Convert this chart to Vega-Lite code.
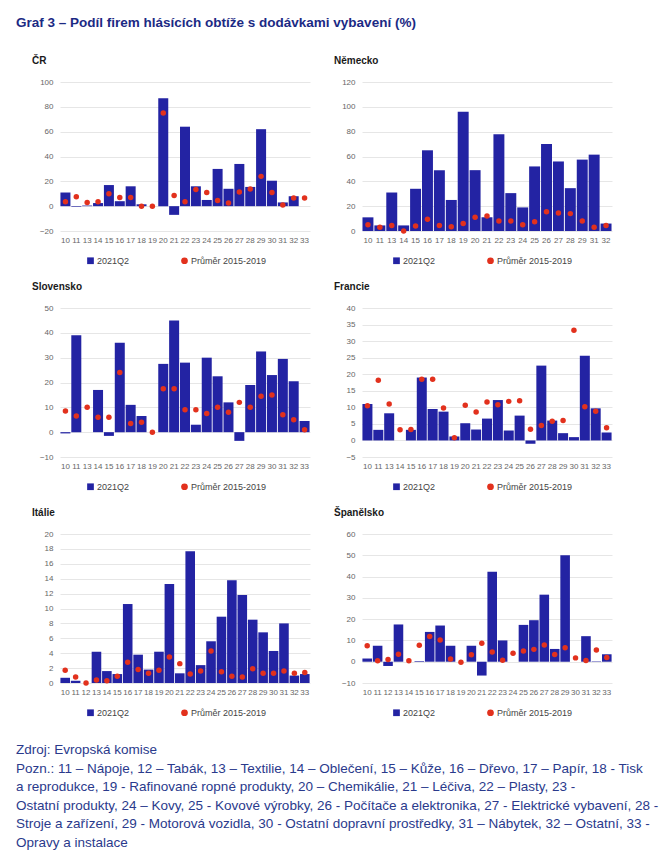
{
  "$schema": "https://vega.github.io/schema/vega-lite/v6.json",
  "padding": {"left": 16, "top": 15, "right": 5, "bottom": 5},
  "background": "white",
  "title": {"text": "Graf 3 – Podíl firem hlásících obtíže s dodávkami vybavení (%)", "anchor": "start", "frame": "group", "dx": -44, "fontSize": 13.5, "fontWeight": "bold", "color": "#1b2a84", "offset": 27},
  "datasets": {
    "cz": [
      {"k": "10", "q": 11, "a": 3.5}, {"k": "11", "q": -0.5, "a": 7.5}, {"k": "13", "q": 0.5, "a": 3}, {"k": "14", "q": 2.5, "a": 3.5},
      {"k": "15", "q": 17, "a": 10}, {"k": "16", "q": 4, "a": 7}, {"k": "17", "q": 16, "a": 7}, {"k": "18", "q": 1.5, "a": 0},
      {"k": "19", "q": 0, "a": 0}, {"k": "20", "q": 87, "a": 75}, {"k": "21", "q": -7, "a": 8.5}, {"k": "22", "q": 64, "a": 3.5},
      {"k": "23", "q": 16, "a": 13.5}, {"k": "24", "q": 5, "a": 11}, {"k": "25", "q": 30, "a": 4.5}, {"k": "26", "q": 14, "a": 2.5},
      {"k": "27", "q": 34, "a": 11.5}, {"k": "28", "q": 15.5, "a": 13.8}, {"k": "29", "q": 62, "a": 24}, {"k": "30", "q": 20.5, "a": 11},
      {"k": "31", "q": 3, "a": 1}, {"k": "32", "q": 8, "a": 6.5}, {"k": "33", "q": 0, "a": 6.5}
    ],
    "de": [
      {"k": "10", "q": 11, "a": 5}, {"k": "11", "q": 4.5, "a": 3}, {"k": "13", "q": 31, "a": 4.5}, {"k": "14", "q": 4.5, "a": 0},
      {"k": "15", "q": 34, "a": 4}, {"k": "16", "q": 65, "a": 9.5}, {"k": "17", "q": 49, "a": 4.5}, {"k": "18", "q": 25, "a": 3.5},
      {"k": "19", "q": 96, "a": 6}, {"k": "20", "q": 49, "a": 11}, {"k": "21", "q": 11, "a": 12}, {"k": "22", "q": 78, "a": 8},
      {"k": "23", "q": 30.5, "a": 8}, {"k": "24", "q": 19, "a": 5}, {"k": "25", "q": 52, "a": 7.5}, {"k": "26", "q": 70, "a": 15.5},
      {"k": "27", "q": 56, "a": 14.5}, {"k": "28", "q": 34.5, "a": 14}, {"k": "29", "q": 57.5, "a": 8}, {"k": "31", "q": 61.5, "a": 3},
      {"k": "32", "q": 6, "a": 4.5}
    ],
    "sk": [
      {"k": "10", "q": -0.5, "a": 8.5}, {"k": "11", "q": 39, "a": 6.5}, {"k": "13", "q": 0, "a": 10}, {"k": "14", "q": 17, "a": 6},
      {"k": "15", "q": -1.5, "a": 6}, {"k": "16", "q": 36, "a": 24}, {"k": "17", "q": 11, "a": 3.5}, {"k": "18", "q": 6.5, "a": 4},
      {"k": "19", "q": 0, "a": 0}, {"k": "20", "q": 27.5, "a": 17.5}, {"k": "21", "q": 45, "a": 17.5}, {"k": "22", "q": 28, "a": 9},
      {"k": "23", "q": 3, "a": 9}, {"k": "24", "q": 30, "a": 7.5}, {"k": "25", "q": 22.5, "a": 10}, {"k": "26", "q": 12, "a": 8},
      {"k": "27", "q": -3.5, "a": 12}, {"k": "28", "q": 19, "a": 10}, {"k": "29", "q": 32.5, "a": 14.5}, {"k": "30", "q": 23, "a": 15},
      {"k": "31", "q": 29.5, "a": 7}, {"k": "32", "q": 20.5, "a": 5}, {"k": "33", "q": 4.5, "a": 1}
    ],
    "fr": [
      {"k": "10", "q": 11, "a": 10.5}, {"k": "11", "q": 3.2, "a": 18.2}, {"k": "13", "q": 8.2, "a": 11}, {"k": "14", "q": 0, "a": 3.2},
      {"k": "15", "q": 3.2, "a": 3.3}, {"k": "16", "q": 19, "a": 18.5}, {"k": "17", "q": 9.5, "a": 18.5}, {"k": "18", "q": 8.7, "a": 9.8},
      {"k": "19", "q": 1.2, "a": 0.8}, {"k": "20", "q": 5.2, "a": 10.6}, {"k": "21", "q": 3.3, "a": 8.6}, {"k": "22", "q": 6.6, "a": 11.6},
      {"k": "23", "q": 12.2, "a": 10.8}, {"k": "24", "q": 3, "a": 11.8}, {"k": "25", "q": 7.5, "a": 12}, {"k": "26", "q": -1, "a": 3.4},
      {"k": "27", "q": 22.6, "a": 4.5}, {"k": "28", "q": 6, "a": 5.8}, {"k": "29", "q": 2.2, "a": 6}, {"k": "30", "q": 1, "a": 33.3},
      {"k": "31", "q": 25.6, "a": 10.2}, {"k": "32", "q": 9.7, "a": 8.8}, {"k": "33", "q": 2.4, "a": 3.8}
    ],
    "it": [
      {"k": "10", "q": 0.7, "a": 1.7}, {"k": "11", "q": 0.3, "a": 0.8}, {"k": "12", "q": 0, "a": 0}, {"k": "13", "q": 4.2, "a": 0.4},
      {"k": "14", "q": 1.6, "a": 0.3}, {"k": "15", "q": 1.2, "a": 0.9}, {"k": "16", "q": 10.6, "a": 2.8}, {"k": "17", "q": 3.8, "a": 1.8},
      {"k": "18", "q": 1.8, "a": 1.3}, {"k": "19", "q": 4.2, "a": 1.7}, {"k": "20", "q": 13.3, "a": 3.5}, {"k": "21", "q": 1.3, "a": 2.6},
      {"k": "22", "q": 17.7, "a": 1.2}, {"k": "23", "q": 2.4, "a": 1.6}, {"k": "24", "q": 5.6, "a": 4.3}, {"k": "25", "q": 8.9, "a": 1.5},
      {"k": "26", "q": 13.8, "a": 0.9}, {"k": "27", "q": 11.8, "a": 0.8}, {"k": "28", "q": 8.5, "a": 1.9}, {"k": "29", "q": 6.8, "a": 1.3},
      {"k": "30", "q": 4.3, "a": 1.3}, {"k": "31", "q": 8, "a": 1.6}, {"k": "32", "q": 1, "a": 1.3}, {"k": "33", "q": 1.2, "a": 1.4}
    ],
    "es": [
      {"k": "10", "q": 1.5, "a": 7.5}, {"k": "11", "q": 7.5, "a": 0.5}, {"k": "12", "q": -2, "a": 1}, {"k": "13", "q": 17.5, "a": 3.5},
      {"k": "14", "q": 0, "a": 0.5}, {"k": "15", "q": 0.3, "a": 7.7}, {"k": "16", "q": 14, "a": 11.8}, {"k": "17", "q": 17, "a": 10.2},
      {"k": "18", "q": 7.5, "a": 1.3}, {"k": "19", "q": 0, "a": -0.3}, {"k": "20", "q": 7.5, "a": 3.3}, {"k": "21", "q": -6.5, "a": 8.7},
      {"k": "22", "q": 42.3, "a": 4.6}, {"k": "23", "q": 10, "a": 0.7}, {"k": "24", "q": 0, "a": 4}, {"k": "25", "q": 17.3, "a": 5},
      {"k": "26", "q": 19.5, "a": 5.8}, {"k": "27", "q": 31.5, "a": 7.8}, {"k": "28", "q": 6, "a": 3.4}, {"k": "29", "q": 50, "a": 6.6},
      {"k": "30", "q": 0, "a": 1.8}, {"k": "31", "q": 12, "a": 0.6}, {"k": "32", "q": 0.2, "a": 5.5}, {"k": "33", "q": 3.5, "a": 2}
    ]
  },
  "vconcat": [
    {
      "columns": 2,
      "bounds": "flush",
      "spacing": {"row": 77, "column": 52},
      "resolve": {"scale": {"color": "independent", "shape": "independent"}, "legend": {"color": "independent", "shape": "independent"}},
      "title": {
        "text": [
          "Zdroj: Evropská komise",
          "Pozn.: 11 – Nápoje, 12 – Tabák, 13 – Textilie, 14 – Oblečení, 15 – Kůže, 16 – Dřevo, 17 – Papír, 18 - Tisk",
          "a reprodukce, 19 - Rafinované ropné produkty, 20 – Chemikálie, 21 – Léčiva, 22 – Plasty, 23 -",
          "Ostatní produkty, 24 – Kovy, 25 - Kovové výrobky, 26 - Počítače a elektronika, 27 - Elektrické vybavení, 28 -",
          "Stroje a zařízení, 29 - Motorová vozidla, 30 - Ostatní dopravní prostředky, 31 – Nábytek, 32 – Ostatní, 33 -",
          "Opravy a instalace"
        ],
        "orient": "bottom", "anchor": "start", "frame": "group", "dx": -44,
        "fontSize": 13.5, "fontWeight": "normal", "color": "#2a3a8c", "lineHeight": 18.6, "offset": 25
      },
      "concat": [
        {
          "title": {"text": "ČR", "anchor": "start", "frame": "group", "dx": -28, "fontSize": 10, "fontWeight": "bold", "color": "#1a1a1a", "offset": 12},
          "width": 250, "height": 149,
          "data": {"name": "cz"},
          "transform": [{"fold": ["q", "a"], "as": ["series", "value"]}],
          "encoding": {
            "x": {"field": "k", "type": "ordinal", "title": null, "scale": {"paddingInner": 0.08, "paddingOuter": 0.04}},
            "y": {"field": "value", "type": "quantitative", "title": null, "scale": {"domain": [-20, 100], "nice": false, "zero": false}, "axis": {"values": [-20, 0, 20, 40, 60, 80, 100]}},
            "color": {"field": "series", "type": "nominal", "scale": {"domain": ["q", "a"], "range": ["#2323a3", "#e2311d"]},
              "legend": {"title": null, "orient": "none", "legendX": 26, "legendY": 174, "direction": "horizontal", "labelExpr": "datum.value == 'q' ? '2021Q2' : 'Průměr 2015-2019'", "columnPadding": 50}}
          },
          "layer": [
            {"transform": [{"filter": "datum.series == 'q'"}], "mark": {"type": "bar"}},
            {"transform": [{"filter": "datum.series == 'a'"}], "mark": {"type": "point", "filled": true, "size": 30, "opacity": 1},
              "encoding": {"shape": {"field": "series", "type": "nominal", "scale": {"domain": ["q", "a"], "range": ["square", "circle"]},
                "legend": {"title": null, "orient": "none", "legendX": 26, "legendY": 174, "direction": "horizontal", "labelExpr": "datum.value == 'q' ? '2021Q2' : 'Průměr 2015-2019'", "columnPadding": 50}}}}
          ]
        },
        {
          "title": {"text": "Německo", "anchor": "start", "frame": "group", "dx": -28, "fontSize": 10, "fontWeight": "bold", "color": "#1a1a1a", "offset": 12},
          "width": 250, "height": 149,
          "data": {"name": "de"},
          "transform": [{"fold": ["q", "a"], "as": ["series", "value"]}],
          "encoding": {
            "x": {"field": "k", "type": "ordinal", "title": null, "scale": {"paddingInner": 0.08, "paddingOuter": 0.04}},
            "y": {"field": "value", "type": "quantitative", "title": null, "scale": {"domain": [0, 120], "nice": false, "zero": false}, "axis": {"values": [0, 20, 40, 60, 80, 100, 120]}},
            "color": {"field": "series", "type": "nominal", "scale": {"domain": ["q", "a"], "range": ["#2323a3", "#e2311d"]},
              "legend": {"title": null, "orient": "none", "legendX": 30, "legendY": 174, "direction": "horizontal", "labelExpr": "datum.value == 'q' ? '2021Q2' : 'Průměr 2015-2019'", "columnPadding": 50}}
          },
          "layer": [
            {"transform": [{"filter": "datum.series == 'q'"}], "mark": {"type": "bar"}},
            {"transform": [{"filter": "datum.series == 'a'"}], "mark": {"type": "point", "filled": true, "size": 30, "opacity": 1},
              "encoding": {"shape": {"field": "series", "type": "nominal", "scale": {"domain": ["q", "a"], "range": ["square", "circle"]},
                "legend": {"title": null, "orient": "none", "legendX": 30, "legendY": 174, "direction": "horizontal", "labelExpr": "datum.value == 'q' ? '2021Q2' : 'Průměr 2015-2019'", "columnPadding": 50}}}}
          ]
        },
        {
          "title": {"text": "Slovensko", "anchor": "start", "frame": "group", "dx": -28, "fontSize": 10, "fontWeight": "bold", "color": "#1a1a1a", "offset": 12},
          "width": 250, "height": 149,
          "data": {"name": "sk"},
          "transform": [{"fold": ["q", "a"], "as": ["series", "value"]}],
          "encoding": {
            "x": {"field": "k", "type": "ordinal", "title": null, "scale": {"paddingInner": 0.08, "paddingOuter": 0.04}},
            "y": {"field": "value", "type": "quantitative", "title": null, "scale": {"domain": [-10, 50], "nice": false, "zero": false}, "axis": {"values": [-10, 0, 10, 20, 30, 40, 50]}},
            "color": {"field": "series", "type": "nominal", "scale": {"domain": ["q", "a"], "range": ["#2323a3", "#e2311d"]},
              "legend": {"title": null, "orient": "none", "legendX": 26, "legendY": 174, "direction": "horizontal", "labelExpr": "datum.value == 'q' ? '2021Q2' : 'Průměr 2015-2019'", "columnPadding": 50}}
          },
          "layer": [
            {"transform": [{"filter": "datum.series == 'q'"}], "mark": {"type": "bar"}},
            {"transform": [{"filter": "datum.series == 'a'"}], "mark": {"type": "point", "filled": true, "size": 30, "opacity": 1},
              "encoding": {"shape": {"field": "series", "type": "nominal", "scale": {"domain": ["q", "a"], "range": ["square", "circle"]},
                "legend": {"title": null, "orient": "none", "legendX": 26, "legendY": 174, "direction": "horizontal", "labelExpr": "datum.value == 'q' ? '2021Q2' : 'Průměr 2015-2019'", "columnPadding": 50}}}}
          ]
        },
        {
          "title": {"text": "Francie", "anchor": "start", "frame": "group", "dx": -28, "fontSize": 10, "fontWeight": "bold", "color": "#1a1a1a", "offset": 12},
          "width": 250, "height": 149,
          "data": {"name": "fr"},
          "transform": [{"fold": ["q", "a"], "as": ["series", "value"]}],
          "encoding": {
            "x": {"field": "k", "type": "ordinal", "title": null, "scale": {"paddingInner": 0.08, "paddingOuter": 0.04}},
            "y": {"field": "value", "type": "quantitative", "title": null, "scale": {"domain": [-5, 40], "nice": false, "zero": false}, "axis": {"values": [-5, 0, 5, 10, 15, 20, 25, 30, 35, 40]}},
            "color": {"field": "series", "type": "nominal", "scale": {"domain": ["q", "a"], "range": ["#2323a3", "#e2311d"]},
              "legend": {"title": null, "orient": "none", "legendX": 30, "legendY": 174, "direction": "horizontal", "labelExpr": "datum.value == 'q' ? '2021Q2' : 'Průměr 2015-2019'", "columnPadding": 50}}
          },
          "layer": [
            {"transform": [{"filter": "datum.series == 'q'"}], "mark": {"type": "bar"}},
            {"transform": [{"filter": "datum.series == 'a'"}], "mark": {"type": "point", "filled": true, "size": 30, "opacity": 1},
              "encoding": {"shape": {"field": "series", "type": "nominal", "scale": {"domain": ["q", "a"], "range": ["square", "circle"]},
                "legend": {"title": null, "orient": "none", "legendX": 30, "legendY": 174, "direction": "horizontal", "labelExpr": "datum.value == 'q' ? '2021Q2' : 'Průměr 2015-2019'", "columnPadding": 50}}}}
          ]
        },
        {
          "title": {"text": "Itálie", "anchor": "start", "frame": "group", "dx": -28, "fontSize": 10, "fontWeight": "bold", "color": "#1a1a1a", "offset": 12},
          "width": 250, "height": 149,
          "data": {"name": "it"},
          "transform": [{"fold": ["q", "a"], "as": ["series", "value"]}],
          "encoding": {
            "x": {"field": "k", "type": "ordinal", "title": null, "scale": {"paddingInner": 0.08, "paddingOuter": 0.04}},
            "y": {"field": "value", "type": "quantitative", "title": null, "scale": {"domain": [0, 20], "nice": false, "zero": false}, "axis": {"values": [0, 2, 4, 6, 8, 10, 12, 14, 16, 18, 20]}},
            "color": {"field": "series", "type": "nominal", "scale": {"domain": ["q", "a"], "range": ["#2323a3", "#e2311d"]},
              "legend": {"title": null, "orient": "none", "legendX": 26, "legendY": 174, "direction": "horizontal", "labelExpr": "datum.value == 'q' ? '2021Q2' : 'Průměr 2015-2019'", "columnPadding": 50}}
          },
          "layer": [
            {"transform": [{"filter": "datum.series == 'q'"}], "mark": {"type": "bar"}},
            {"transform": [{"filter": "datum.series == 'a'"}], "mark": {"type": "point", "filled": true, "size": 30, "opacity": 1},
              "encoding": {"shape": {"field": "series", "type": "nominal", "scale": {"domain": ["q", "a"], "range": ["square", "circle"]},
                "legend": {"title": null, "orient": "none", "legendX": 26, "legendY": 174, "direction": "horizontal", "labelExpr": "datum.value == 'q' ? '2021Q2' : 'Průměr 2015-2019'", "columnPadding": 50}}}}
          ]
        },
        {
          "title": {"text": "Španělsko", "anchor": "start", "frame": "group", "dx": -28, "fontSize": 10, "fontWeight": "bold", "color": "#1a1a1a", "offset": 12},
          "width": 250, "height": 149,
          "data": {"name": "es"},
          "transform": [{"fold": ["q", "a"], "as": ["series", "value"]}],
          "encoding": {
            "x": {"field": "k", "type": "ordinal", "title": null, "scale": {"paddingInner": 0.08, "paddingOuter": 0.04}},
            "y": {"field": "value", "type": "quantitative", "title": null, "scale": {"domain": [-10, 60], "nice": false, "zero": false}, "axis": {"values": [-10, 0, 10, 20, 30, 40, 50, 60]}},
            "color": {"field": "series", "type": "nominal", "scale": {"domain": ["q", "a"], "range": ["#2323a3", "#e2311d"]},
              "legend": {"title": null, "orient": "none", "legendX": 30, "legendY": 174, "direction": "horizontal", "labelExpr": "datum.value == 'q' ? '2021Q2' : 'Průměr 2015-2019'", "columnPadding": 50}}
          },
          "layer": [
            {"transform": [{"filter": "datum.series == 'q'"}], "mark": {"type": "bar"}},
            {"transform": [{"filter": "datum.series == 'a'"}], "mark": {"type": "point", "filled": true, "size": 30, "opacity": 1},
              "encoding": {"shape": {"field": "series", "type": "nominal", "scale": {"domain": ["q", "a"], "range": ["square", "circle"]},
                "legend": {"title": null, "orient": "none", "legendX": 30, "legendY": 174, "direction": "horizontal", "labelExpr": "datum.value == 'q' ? '2021Q2' : 'Průměr 2015-2019'", "columnPadding": 50}}}}
          ]
        }
      ]
    }
  ],
  "config": {
    "font": "Liberation Sans",
    "view": {"stroke": null},
    "axis": {"domain": false, "ticks": false, "labelFontSize": 8, "labelColor": "#666666"},
    "axisY": {"gridColor": "#e6e6e6", "labelPadding": 7},
    "axisX": {"grid": false, "labelPadding": 5, "labelAngle": 0, "labelOverlap": false},
    "legend": {"labelFontSize": 9, "labelColor": "#444444", "symbolSize": 45, "labelOffset": 2, "symbolStrokeWidth": 0}
  }
}
